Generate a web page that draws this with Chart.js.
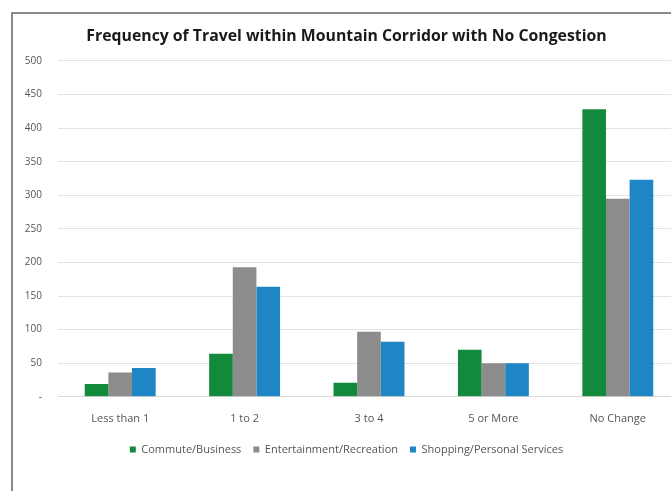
<!DOCTYPE html>
<html>
<head>
<meta charset="utf-8">
<script src="https://cdn.jsdelivr.net/npm/chart.js@4"></script>
<style>
  html, body { margin: 0; padding: 0; background: #fff; overflow: hidden; }
  .frame {
    position: absolute; left: 11px; top: 12px;
    width: 667px; height: 500px;
    border-left: 2px solid #8a8a8a; border-top: 2px solid #8a8a8a;
    background: #fff;
  }
  .frame canvas { display: block; }
</style>
</head>
<body>
<div class="frame"><canvas id="chart" width="667" height="500"></canvas></div>
<script>
const categories = ["Less than 1", "1 to 2", "3 to 4", "5 or More", "No Change"];
const commute = [19, 64, 21, 70, 428];
const entertainment = [36, 193, 97, 50, 295];
const shopping = [43, 164, 82, 50, 323];
const yTicks = [0, 50, 100, 150, 200, 250, 300, 350, 400, 450, 500];

const font = "'Open Sans', 'Noto Sans', sans-serif";

new Chart(document.getElementById("chart"), {
  type: "bar",
  data: {
    labels: categories,
    datasets: [
      { label: "Commute/Business", data: commute, backgroundColor: "#138a3b" },
      { label: "Entertainment/Recreation", data: entertainment, backgroundColor: "#8c8c8c" },
      { label: "Shopping/Personal Services", data: shopping, backgroundColor: "#1f86c5" }
    ]
  },
  options: {
    responsive: false,
    animation: false,
    layout: { padding: { left: 0, right: 0, top: 13, bottom: 49 } },
    datasets: { bar: { categoryPercentage: 0.57, barPercentage: 1 } },
    plugins: {
      title: {
        display: true,
        text: "Frequency of Travel within Mountain Corridor with No Congestion",
        color: "#1a1a1a",
        font: { family: font, size: 15.8, weight: "bold" },
        padding: { top: 0, bottom: 15 }
      },
      legend: {
        position: "bottom",
        labels: {
          color: "#555",
          font: { family: font, size: 11 },
          boxWidth: 6, boxHeight: 6, padding: 12
        }
      },
      tooltip: { enabled: false }
    },
    scales: {
      x: {
        grid: { display: false },
        border: { color: "#d9d9d9" },
        ticks: { color: "#555", font: { family: font, size: 11 }, padding: 7 }
      },
      y: {
        min: 0, max: 500,
        afterFit: s => { s.width = 45; },
        afterBuildTicks: s => { s.ticks = yTicks.map(v => ({ value: v })); },
        grid: { color: "#e3e3e3", drawTicks: false },
        border: { display: false },
        ticks: {
          color: "#555", padding: 16,
          font: { family: font, size: 10 },
          callback: v => v === 0 ? "-" : v
        }
      }
    }
  }
});
</script>
</body>
</html>
